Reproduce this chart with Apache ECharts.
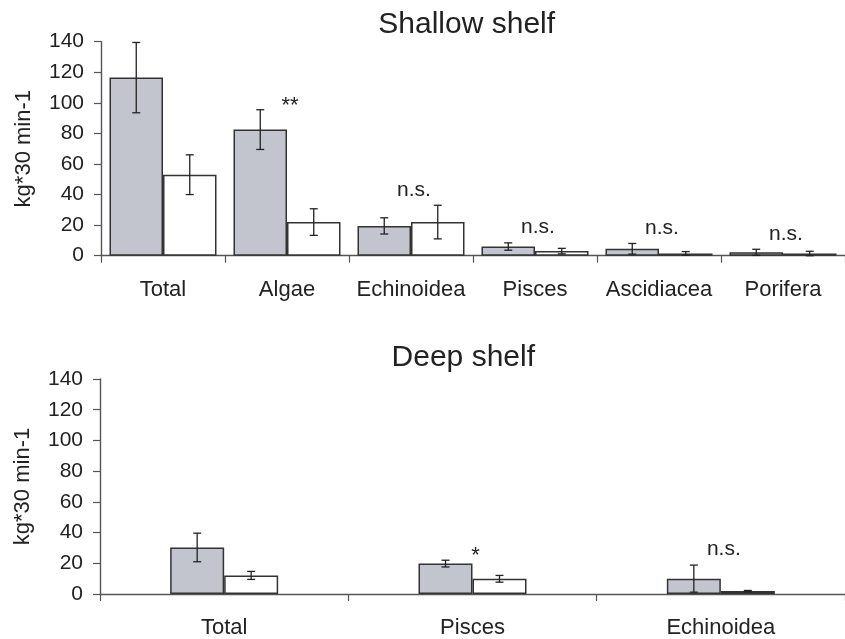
<!DOCTYPE html>
<html>
<head>
<meta charset="utf-8">
<script src="https://cdn.jsdelivr.net/npm/echarts@6/dist/echarts.min.js"></script>
<style>
  html, body { margin: 0; padding: 0; background: #fff; }
  #chart { width: 845px; height: 639px; }
</style>
</head>
<body>
<div id="chart"></div>
<script>
// Shallow shelf: mean catch (kg per 30 min) with error, two groups per category
const shallowCats = ['Total', 'Algae', 'Echinoidea', 'Pisces', 'Ascidiacea', 'Porifera'];
const shallowGrey = [116.5, 82.5, 19.5, 6, 4.5, 2.2];
const shallowGreyErr = [23, 13, 5.3, 2.4, 3.5, 2];
const shallowWhite = [53, 22, 22, 3, 1.5, 1.4];
const shallowWhiteErr = [13, 8.7, 11, 1.8, 1.2, 1.5];
const shallowSig = ['', '**', 'n.s.', 'n.s.', 'n.s.', 'n.s.'];

// Deep shelf
const deepCats = ['Total', 'Pisces', 'Echinoidea'];
const deepGrey = [30.3, 19.8, 10];
const deepGreyErr = [9.3, 2.2, 8.8];
const deepWhite = [12.1, 9.9, 1.9];
const deepWhiteErr = [2.6, 2.2, 0.4];
const deepSig = ['', '*', 'n.s.'];

const yTicks = [0, 20, 40, 60, 80, 100, 120, 140];

const FONT = '"Liberation Sans", Arial, Helvetica, sans-serif';
const TEXT = '#222';
const AXIS = '#555';
const GREY = '#c2c5cd';
const EDGE = '#333';

const chart = echarts.init(document.getElementById('chart'));

function xAxisFor(gridIndex, cats) {
  return {
    type: 'category', gridIndex, data: cats,
    axisLine: { lineStyle: { color: AXIS, width: 1.4 } },
    axisTick: { show: true, interval: 0, length: 7, lineStyle: { color: AXIS, width: 1.2 } },
    axisLabel: { interval: 0, color: TEXT, fontFamily: FONT, fontSize: 22, margin: 23 }
  };
}

function yAxisFor(gridIndex) {
  return {
    type: 'value', gridIndex,
    min: yTicks[0], max: yTicks[yTicks.length - 1], interval: yTicks[1] - yTicks[0],
    name: 'kg*30 min-1', nameLocation: 'middle', nameGap: 66,
    nameTextStyle: { color: TEXT, fontFamily: FONT, fontSize: 22 },
    axisLine: { show: true, lineStyle: { color: AXIS, width: 1.4 } },
    axisTick: { show: true, length: 7, lineStyle: { color: AXIS, width: 1.2 } },
    axisLabel: { color: TEXT, fontFamily: FONT, fontSize: 21, margin: 17 },
    splitLine: { show: false }
  };
}

function barSeries(axisIndex, values, color, barWidth) {
  return {
    type: 'bar', xAxisIndex: axisIndex, yAxisIndex: axisIndex,
    data: values, barWidth, barGap: '0%',
    itemStyle: { color, borderColor: EDGE, borderWidth: 1.5 },
    silent: true
  };
}

// Error whiskers drawn over one bar of the pair (side -1 = left bar, +1 = right bar)
function errorSeries(axisIndex, values, errs, side, barWidth) {
  return {
    type: 'custom', xAxisIndex: axisIndex, yAxisIndex: axisIndex, z: 5, silent: true,
    data: values.map((v, i) => [i, v, errs[i]]),
    encode: { x: 0, y: 1 },
    renderItem(params, api) {
      const i = api.value(0), v = api.value(1), e = api.value(2);
      const c = api.coord([i, v]);
      const x = c[0] + side * barWidth / 2;
      const yTop = api.coord([i, v + e])[1];
      const yBot = api.coord([i, Math.max(0, v - e)])[1];
      const cap = 4;
      const style = { stroke: TEXT, lineWidth: 1.3 };
      return {
        type: 'group',
        children: [
          { type: 'line', shape: { x1: x, y1: yTop, x2: x, y2: yBot }, style },
          { type: 'line', shape: { x1: x - cap, y1: yTop, x2: x + cap, y2: yTop }, style },
          { type: 'line', shape: { x1: x - cap, y1: yBot, x2: x + cap, y2: yBot }, style }
        ]
      };
    }
  };
}

// Significance marks placed just above the taller whisker of each category
function sigSeries(axisIndex, marks, g, ge, w, we) {
  return {
    type: 'custom', xAxisIndex: axisIndex, yAxisIndex: axisIndex, z: 6, silent: true,
    data: marks.map((m, i) => [i, Math.max(g[i] + ge[i], w[i] + we[i])]),
    encode: { x: 0, y: 1 },
    renderItem(params, api) {
      const i = api.value(0);
      const text = marks[i];
      if (!text) return null;
      const p = api.coord([i, api.value(1)]);
      const star = text.indexOf('*') >= 0;
      return {
        type: 'text',
        x: p[0] + 3,
        y: p[1] + (star ? 7 : -5),
        style: {
          text, fill: TEXT, fontFamily: FONT, fontSize: star ? 22 : 21,
          textAlign: 'center', textVerticalAlign: 'bottom'
        }
      };
    }
  };
}

const topBar = 53.5, botBar = 54;

chart.setOption({
  animation: false,
  backgroundColor: '#fff',
  graphic: [
    { type: 'text', x: 466.7, y: 24.6,
      style: { text: 'Shallow shelf', fill: TEXT, fontFamily: FONT, fontSize: 30, textAlign: 'center', textVerticalAlign: 'middle' } },
    { type: 'text', x: 463.3, y: 358,
      style: { text: 'Deep shelf', fill: TEXT, fontFamily: FONT, fontSize: 30, textAlign: 'center', textVerticalAlign: 'middle' } }
  ],
  grid: [
    { left: 101, top: 41.7, width: 750, height: 214 },
    { left: 100, top: 379, width: 750, height: 215.3 }
  ],
  xAxis: [xAxisFor(0, shallowCats), xAxisFor(1, deepCats)],
  yAxis: [yAxisFor(0), yAxisFor(1)],
  series: [
    barSeries(0, shallowGrey, GREY, topBar),
    barSeries(0, shallowWhite, '#fff', topBar),
    errorSeries(0, shallowGrey, shallowGreyErr, -1, topBar),
    errorSeries(0, shallowWhite, shallowWhiteErr, 1, topBar),
    sigSeries(0, shallowSig, shallowGrey, shallowGreyErr, shallowWhite, shallowWhiteErr),
    barSeries(1, deepGrey, GREY, botBar),
    barSeries(1, deepWhite, '#fff', botBar),
    errorSeries(1, deepGrey, deepGreyErr, -1, botBar),
    errorSeries(1, deepWhite, deepWhiteErr, 1, botBar),
    sigSeries(1, deepSig, deepGrey, deepGreyErr, deepWhite, deepWhiteErr)
  ]
});
</script>
</body>
</html>
